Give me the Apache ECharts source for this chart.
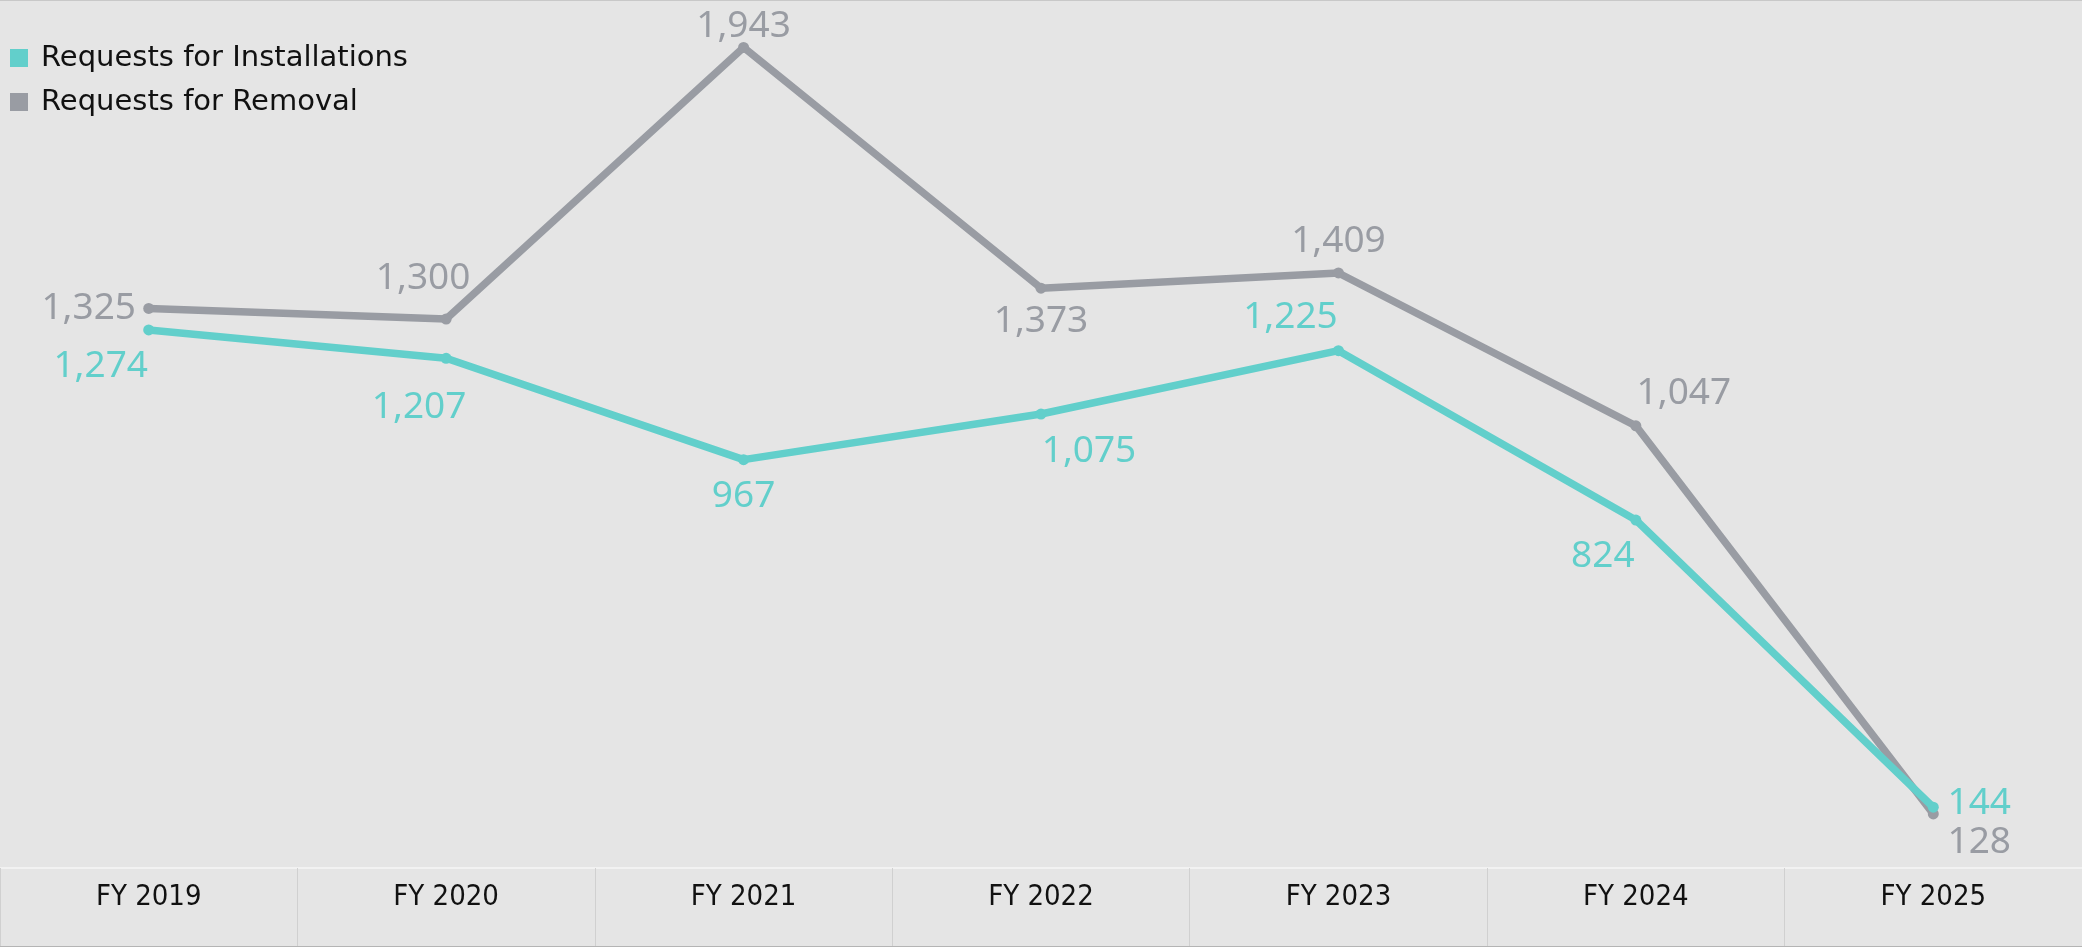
<!DOCTYPE html>
<html>
<head>
<meta charset="utf-8">
<script src="https://cdn.jsdelivr.net/npm/echarts@6/dist/echarts.min.js"></script>
<style>
    html, body { margin: 0; padding: 0; background: #e5e5e5; }
    #chart {
        width: 2082px;
        height: 947px;
        box-sizing: border-box;
        border-top: 1px solid #c8c8c8;
        border-bottom: 1px solid #b4b4b4;
    }
</style>
</head>
<body>
<div id="chart"></div>
<script>
// chart data
const years = ['FY 2019', 'FY 2020', 'FY 2021', 'FY 2022', 'FY 2023', 'FY 2024', 'FY 2025'];
const installations = [1274, 1207, 967, 1075, 1225, 824, 144];
const removals = [1325, 1300, 1943, 1373, 1409, 1047, 128];

// where each value label sits relative to its point (px)
const installLabelOffsets = [[-48, 36], [-27, 49], [0, 37], [48, 37], [-48, -33], [-33, 36], [46, -4]];
const removalLabelOffsets = [[-60, 0], [-23, -41], [0, -21], [0, 33], [0, -32], [48, -32], [46, 29]];

const TEAL = '#62cfcb';
const GREY = '#999ca3';

function withLabels(values, offsets, color) {
    return values.map((v, i) => ({
        value: v,
        label: {
            show: true,
            position: 'inside',
            offset: offsets[i],
            color: color,
            fontSize: 37,
            fontFamily: 'Noto Sans',
            formatter: p => p.value.toLocaleString('en-US'),
        },
    }));
}

let chart = echarts.init(document.getElementById('chart'));
chart.setOption({
    backgroundColor: '#e5e5e5',
    animation: false,
    legend: {
        orient: 'vertical',
        left: 10,
        top: 42,
        padding: 0,
        icon: 'rect',
        itemWidth: 18,
        itemHeight: 18,
        itemGap: 14,
        textStyle: {
            color: '#111',
            fontSize: 29,
            fontFamily: 'DejaVu Sans',
            lineHeight: 30,
            padding: [0, 0, 0, 8],
        },
        data: [
            { name: 'Requests for Installations', itemStyle: { color: TEAL } },
            { name: 'Requests for Removal', itemStyle: { color: GREY } },
        ],
    },
    grid: { left: 0, right: 0, top: 0, bottom: 78 },
    xAxis: {
        type: 'category',
        data: years,
        boundaryGap: true,
        axisLine: { show: true, lineStyle: { color: '#f2f2f2', width: 2 } },
        axisTick: { show: true, length: 80, lineStyle: { color: '#d0d0d0', width: 1 } },
        axisLabel: {
            color: '#111',
            fontSize: 29,
            fontFamily: "'Liberation Sans Narrow', 'DejaVu Sans Condensed', 'Noto Sans'",
            margin: 15,
        },
        splitLine: { show: false },
    },
    yAxis: {
        type: 'value',
        min: 0,
        max: 2053,
        show: false,
        splitLine: { show: false },
    },
    series: [
        {
            name: 'Requests for Removal',
            type: 'line',
            data: withLabels(removals, removalLabelOffsets, GREY),
            color: GREY,
            lineStyle: { width: 7.5, color: GREY },
            symbol: 'circle',
            symbolSize: 11,
            itemStyle: { color: GREY },
            z: 2,
        },
        {
            name: 'Requests for Installations',
            type: 'line',
            data: withLabels(installations, installLabelOffsets, TEAL),
            color: TEAL,
            lineStyle: { width: 7.5, color: TEAL },
            symbol: 'circle',
            symbolSize: 11,
            itemStyle: { color: TEAL },
            z: 3,
        },
    ],
});
</script>
</body>
</html>
